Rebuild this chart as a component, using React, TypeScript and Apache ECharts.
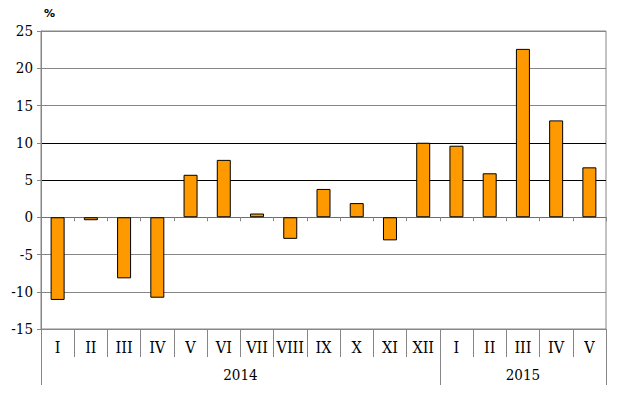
import React, { useEffect, useRef } from "react";
import * as echarts from "echarts";

const months2014 = ["I", "II", "III", "IV", "V", "VI", "VII", "VIII", "IX", "X", "XI", "XII"];
const months2015 = ["I", "II", "III", "IV", "V"];
const years = ["2014", "2015"];
const values2014 = [-11.1, -0.4, -8.2, -10.8, 5.7, 7.7, 0.5, -2.9, 3.8, 1.9, -3.1, 10.0];
const values2015 = [9.6, 5.9, 22.6, 13.0, 6.7];
const yTicks = { min: -15, max: 25, interval: 5 };

export default function App() {
  const ref = useRef<HTMLDivElement>(null);
  useEffect(() => {
    if (!ref.current) return;
    const chart = echarts.init(ref.current, null, { renderer: "svg" });
    const categories = [...months2014, ...months2015];
    const values = [...values2014, ...values2015];
    const spans = [months2014.length, months2015.length];
    const bounds: number[] = [0];
    const centers: number[] = [];
    spans.forEach((s) => {
      const start = bounds[bounds.length - 1];
      centers.push(start + s / 2);
      bounds.push(start + s);
    });
    const total = categories.length;
    const gray = "#868686";
    const serif = "DejaVu Serif Condensed";
    const nLines = (yTicks.max - yTicks.min) / yTicks.interval + 1;
    const lineColors: string[] = [];
    for (let i = 0; i < nLines; i++) {
      const v = yTicks.min + i * yTicks.interval;
      lineColors.push(v === 5 || v === 10 ? "#000000" : gray);
    }
    chart.setOption({
      animation: false,
      grid: {
        left: 41,
        right: 19,
        top: 31,
        bottom: 68,
        show: true,
        borderColor: gray,
        borderWidth: 1,
        backgroundColor: "transparent",
      },
      xAxis: [
        {
          type: "category",
          data: categories,
          position: "bottom",
          axisLine: { onZero: false, show: true, lineStyle: { color: gray } },
          axisTick: { show: true, length: 28, lineStyle: { color: gray } },
          axisLabel: { color: "#000", fontFamily: serif, fontSize: 16, margin: 10, interval: 0 },
          splitLine: { show: false },
        },
        {
          type: "value",
          min: 0,
          max: total,
          position: "bottom",
          axisLine: { show: false, onZero: false },
          axisTick: { show: true, length: 56, lineStyle: { color: gray }, customValues: bounds },
          axisLabel: {
            show: true,
            color: "#000",
            fontFamily: serif,
            fontSize: 15,
            margin: 38,
            customValues: centers,
            formatter: (v: number) => {
              const i = centers.indexOf(v);
              return i >= 0 ? years[i] : "";
            },
          },
          splitLine: { show: false },
        },
        {
          type: "category",
          data: categories,
          position: "bottom",
          axisLine: { onZero: true, show: true, lineStyle: { color: "#6e6e6e" } },
          axisTick: { show: true, length: 4, lineStyle: { color: gray } },
          axisLabel: { show: false },
          splitLine: { show: false },
        },
      ],
      yAxis: {
        type: "value",
        min: yTicks.min,
        max: yTicks.max,
        interval: yTicks.interval,
        name: "%",
        nameLocation: "end",
        nameGap: 12,
        nameTextStyle: {
          fontFamily: "DejaVu Sans",
          fontSize: 11,
          fontWeight: "bold",
          color: "#000",
          align: "left",
          padding: [0, 0, 0, 3],
        },
        axisLine: { show: true, onZero: false, lineStyle: { color: gray } },
        axisTick: { show: true, length: 4, lineStyle: { color: gray } },
        axisLabel: { color: "#000", fontFamily: serif, fontSize: 15, margin: 8 },
        splitLine: { show: true, lineStyle: { color: lineColors, width: 1 } },
      },
      series: [
        {
          type: "bar",
          xAxisIndex: 0,
          data: values,
          barWidth: 14,
          itemStyle: { color: "#FF9900", borderColor: "#000", borderWidth: 1 },
        },
      ],
    });
    return () => chart.dispose();
  }, []);
  return <div ref={ref} style={{ width: 625, height: 397, position: "absolute", left: 0, top: 0 }} />;
}
